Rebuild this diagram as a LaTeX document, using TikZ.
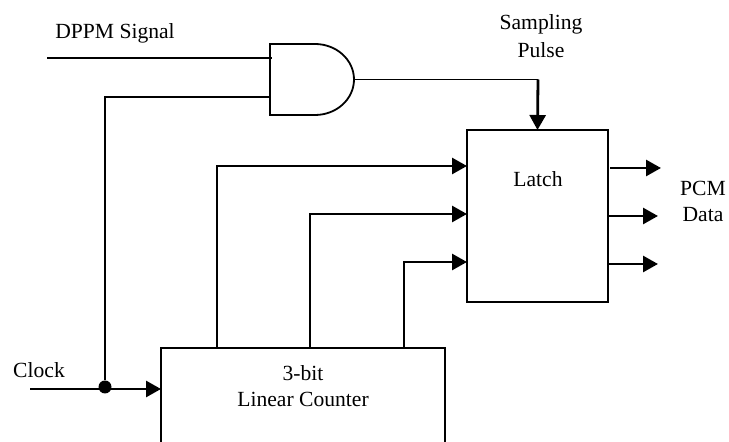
\documentclass[tikz,border=0pt]{standalone}
\usepackage{fontspec}
\setmainfont{Liberation Serif}
\usetikzlibrary{arrows.meta,positioning,calc}

\begin{document}
\begin{tikzpicture}[
  x=0.5pt, y=-0.5pt,
  block/.style={draw, line width=0.9pt, inner sep=0pt, outer sep=0pt},
  lbl/.style={font=\fontsize{10.8}{13}\selectfont, align=center, inner sep=0pt},
  thinwire/.style={line width=0.8pt},
  arr/.style={-{Triangle[length=7.5pt, width=8pt]}, line width=1.4pt},
  dot/.style={circle, fill, inner sep=0pt, minimum size=6.5pt}
]
  \useasboundingbox (0,0) rectangle (729,442);
  \clip (0,0) rectangle (729,442);

  \node[block, minimum width=70.5pt, minimum height=86pt] (latch) at (537.5,216) {};
  \node[block, minimum width=142pt, minimum height=61pt] (counter) at (303,409) {};
  \node[minimum width=42pt, minimum height=35.5pt, inner sep=0pt, outer sep=0pt] (andgate) at (312,79.5) {};
  \node[dot] (junction) at (105,387) {};

  \node[lbl] (dppm) at (115,33) {DPPM Signal};
  \node[lbl] (sampling) at (541,36) {Sampling\\[1pt]Pulse};
  \node[lbl] (clock) at (39,370) {Clock};
  \node[lbl] (latchname) at (538,179) {Latch};
  \node[lbl] (countername) at (303,386) {3-bit\\Linear Counter};
  \node[lbl] (pcm) at (703,201) {PCM\\Data};

  \coordinate (dppmin) at (47,58);
  \coordinate (gatea) at (272,58);
  \coordinate (gateb) at (270,97);
  \coordinate (clockin) at (30,389);
  \coordinate (clockend) at (161,389);
  \coordinate (turn) at (538,79.5);
  \coordinate (qa) at (217,348);
  \coordinate (qb) at (310,348);
  \coordinate (qc) at (404,348);
  \coordinate (da) at (467,166);
  \coordinate (db) at (467,214);
  \coordinate (dc) at (467,262);
  \coordinate (oa) at (610,168);
  \coordinate (ob) at (607,216);
  \coordinate (oc) at (607,264);
  \coordinate (ea) at (661,168);
  \coordinate (eb) at (658,216);
  \coordinate (ec) at (658,264);

  \draw[block] (andgate.north west) -- ++(45,0)
    arc[start angle=-90, end angle=90, x radius=39, y radius=35.5]
    -- (andgate.south west) -- cycle;

  \draw[thinwire] (dppmin) -- (gatea);
  \draw[thinwire] (gateb) -| (junction);
  \draw[thinwire] (andgate.east) -- (turn);
  \draw[arr] (turn) -- (latch.north);
  \draw[arr] (clockin) -- (clockend);
  \draw[arr] (qa) |- (da);
  \draw[arr] (qb) |- (db);
  \draw[arr] (qc) |- (dc);
  \draw[arr] (oa) -- (ea);
  \draw[arr] (ob) -- (eb);
  \draw[arr] (oc) -- (ec);
\end{tikzpicture}
\end{document}
